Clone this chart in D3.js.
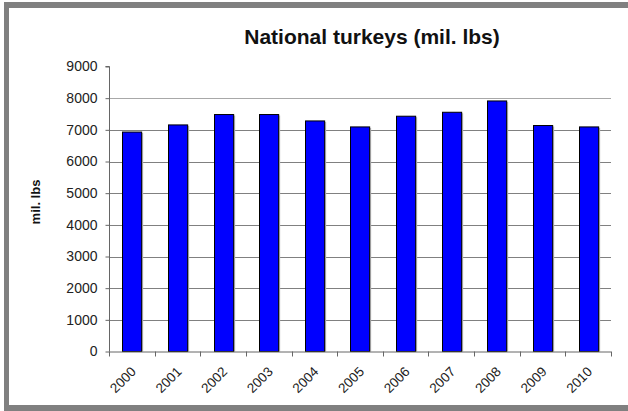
<!DOCTYPE html>
<html><head><meta charset="utf-8">
<script src="https://cdn.jsdelivr.net/npm/d3@7"></script>
<style>body{margin:0;background:#fff}svg{display:block}</style>
</head><body>
<script>
const years = ["2000","2001","2002","2003","2004","2005","2006","2007","2008","2009","2010"];
const values = [6930, 7155, 7483, 7483, 7281, 7092, 7430, 7555, 7912, 7136, 7092];
const yTicks = [0,1000,2000,3000,4000,5000,6000,7000,8000,9000];
const title = "National turkeys (mil. lbs)";
const yLabel = "mil. lbs";

const W = 628, H = 411;
const FONT = "Liberation Sans, Arial, sans-serif";
const svg = d3.select("body").append("svg").attr("width", W).attr("height", H);
// frame
svg.append("rect").attr("x",0).attr("y",0).attr("width",W).attr("height",H).attr("fill","#fff");
svg.append("rect").attr("x",4).attr("y",2).attr("width",5).attr("height",409).attr("fill","#808080");
svg.append("rect").attr("x",4).attr("y",2).attr("width",624).attr("height",6).attr("fill","#808080");
svg.append("rect").attr("x",4).attr("y",405).attr("width",624).attr("height",6).attr("fill","#808080");

const m = {l:109, r:611, t:66.5, b:351.5};
const x = d3.scaleBand().domain(years).range([m.l, m.r]).paddingInner(0.58).paddingOuter(0.29);
const y = d3.scaleLinear().domain([0,9000]).range([m.b, m.t]);

// gridlines
svg.append("g").selectAll("line").data(yTicks.filter(d=>d>0 && d<9000)).join("line")
  .attr("x1", m.l).attr("x2", m.r).attr("y1", d=>Math.round(y(d))+0.5).attr("y2", d=>Math.round(y(d))+0.5)
  .attr("stroke", d=> d===8000 ? "#a8a8a8" : "#808080").attr("stroke-width",1);

// bar shadows
svg.append("g").selectAll("rect").data(years).join("rect")
  .attr("x", (d)=>Math.round(x(d))+2)
  .attr("y", (d,i)=>y(values[i])+1)
  .attr("width", x.bandwidth())
  .attr("height", (d,i)=>m.b - y(values[i])-1)
  .attr("fill","#bbb");
// bars
svg.append("g").selectAll("rect").data(years).join("rect")
  .attr("x", (d)=>Math.round(x(d))+0.5)
  .attr("y", (d,i)=>y(values[i]))
  .attr("width", x.bandwidth())
  .attr("height", (d,i)=>m.b - y(values[i]))
  .attr("fill","#0000ff").attr("stroke","#000").attr("stroke-width",1);

// y axis
const ya = svg.append("g").attr("transform",`translate(${m.l+0.5},0)`)
  .call(d3.axisLeft(y).tickValues(yTicks).tickSize(4).tickPadding(8).tickFormat(d3.format("d")));
ya.select(".domain").attr("stroke","#666").attr("d",`M-4,${y(9000)}H0V${m.b}`);
ya.selectAll(".tick line").attr("stroke","#666");
ya.selectAll("text").attr("font-family",FONT).attr("font-size","14px").attr("fill","#222");

// x axis
const bounds = d3.range(years.length+1).map(i=> m.l + i*(m.r-m.l)/years.length);
const xg = svg.append("g");
xg.append("line").attr("x1",m.l).attr("x2",m.r).attr("y1",m.b+0.5).attr("y2",m.b+0.5).attr("stroke","#666");
xg.selectAll("line.t").data(bounds).join("line").attr("class","t")
  .attr("x1",d=>Math.round(d)+0.5).attr("x2",d=>Math.round(d)+0.5).attr("y1",m.b).attr("y2",m.b+5).attr("stroke","#666");
xg.selectAll("text").data(years).join("text")
  .attr("transform", d=>`translate(${x(d)+x.bandwidth()/2+5},${m.b+21}) rotate(-45)`)
  .attr("text-anchor","end")
  .attr("font-family",FONT).attr("font-size","13.5px").attr("fill","#222")
  .text(d=>d);

// title
svg.append("text").attr("x",372).attr("y",44).attr("text-anchor","middle")
  .attr("font-family",FONT).attr("font-size","21px").attr("font-weight","bold").attr("fill","#111")
  .text(title);
// y label
svg.append("text").attr("transform",`translate(40,202) rotate(-90)`).attr("text-anchor","middle")
  .attr("font-family",FONT).attr("font-size","13px").attr("font-weight","bold").attr("fill","#111")
  .text(yLabel);
</script>
</body></html>
